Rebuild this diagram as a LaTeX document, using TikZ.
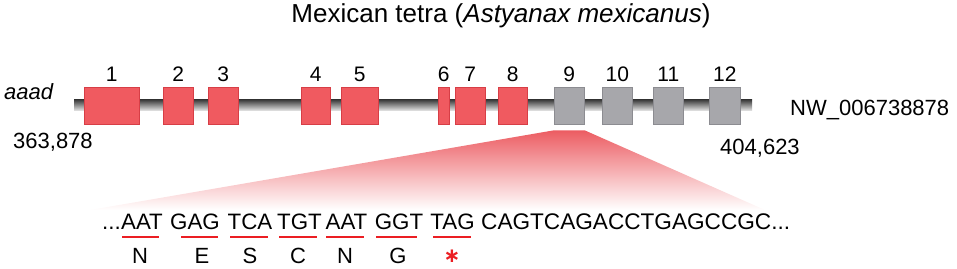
\documentclass[tikz,border=0pt]{standalone}
\usepackage{fontspec}
\setmainfont{Liberation Sans}
\newfontfamily\symfont{DejaVu Sans}
\definecolor{exred}{RGB}{240,90,96}
\definecolor{exredd}{RGB}{215,62,70}
\definecolor{exgray}{RGB}{167,167,171}
\definecolor{exgrayd}{RGB}{140,140,145}
\definecolor{seqred}{RGB}{235,30,35}
\definecolor{fanred}{RGB}{236,92,98}
\begin{document}
\begin{tikzpicture}[x=1pt,y=1pt,
  exon/.style={draw=exredd,line width=0.6pt,fill=exred,minimum height=37pt,inner sep=0pt,anchor=west},
  gexon/.style={draw=exgrayd,line width=0.6pt,fill=exgray,minimum height=37pt,inner sep=0pt,anchor=west},
  num/.style={font=\fontsize{21}{24}\selectfont,anchor=base,inner sep=0pt},
  lbl/.style={font=\fontsize{22}{26}\selectfont,inner sep=0pt},
  codon/.style={font=\fontsize{22.3}{26}\selectfont,inner sep=0pt,anchor=base},
  uline/.style={fill=seqred,minimum height=2pt,inner sep=0pt},
  aa/.style={font=\fontsize{22}{26}\selectfont,inner sep=0pt,anchor=base}]
\useasboundingbox (0,0) rectangle (957,268);
% title
\node[inner sep=0pt,anchor=base,font=\fontsize{26}{30}\selectfont] (title) at (501,245) {Mexican tetra (\textit{Astyanax mexicanus})};
% gene backbone
\shade[top color=black!75,middle color=black!75,bottom color=black!8] (74,157) rectangle (752,168);
% exons
\node[exon,minimum width=55pt] (e1) at (84,162.5) {};
\node[exon,minimum width=30pt] (e2) at (163,162.5) {};
\node[exon,minimum width=30pt] (e3) at (208,162.5) {};
\node[exon,minimum width=29pt] (e4) at (301,162.5) {};
\node[exon,minimum width=37pt] (e5) at (341,162.5) {};
\node[exon,minimum width=11pt] (e6) at (438,162.5) {};
\node[exon,minimum width=30pt] (e7) at (455,162.5) {};
\node[exon,minimum width=29pt] (e8) at (498,162.5) {};
\node[gexon,minimum width=30pt] (e9) at (554,162.5) {};
\node[gexon,minimum width=30pt] (e10) at (602,162.5) {};
\node[gexon,minimum width=30pt] (e11) at (653,162.5) {};
\node[gexon,minimum width=31pt] (e12) at (709,162.5) {};
\foreach \i in {1,...,12}{
  \node[num] (n\i) at ([yshift=5pt]e\i.north) {\i};
}
% labels
\node[lbl,anchor=base west,font=\fontsize{22}{26}\selectfont\itshape] (gname) at (4,168) {aaad};
\node[lbl,anchor=base west] (start) at (13,120) {363,878};
\node[lbl,anchor=base west] (stop) at (720,114) {404,623};
\node[lbl,anchor=base west] (acc) at (790,153) {NW\_006738878};
% zoom fan
\coordinate (f1) at ([yshift=-6pt]e9.south west);
\coordinate (f2) at ([yshift=-6pt]e9.south east);
\coordinate (f3) at (765,58);
\coordinate (f4) at (90,58);
\shade[top color=fanred,bottom color=white] (f1) -- (f2) -- (f3) -- (f4) -- cycle;
% sequence
\node[codon,anchor=base west] (dots) at (102,39) {...};
\node[codon] (c1) at (142,39) {AAT};
\node[codon] (c2) at (195,39) {GAG};
\node[codon] (c3) at (250,39) {TCA};
\node[codon] (c4) at (299.5,39) {TGT};
\node[codon] (c5) at (346.5,39) {AAT};
\node[codon] (c6) at (399,39) {GGT};
\node[codon] (c7) at (452.5,39) {TAG};
\node[codon,anchor=base west,font=\fontsize{22.6}{26}\selectfont] (rest) at (481,39) {CAGTCAGACCTGAGCCGC...};
% underlines
\node[uline,minimum width=37pt] (u1) at (140.5,31) {};
\node[uline,minimum width=37pt] (u2) at (199.5,31) {};
\node[uline,minimum width=38pt] (u3) at (249,31) {};
\node[uline,minimum width=38pt] (u4) at (298,31) {};
\node[uline,minimum width=38pt] (u5) at (345,31) {};
\node[uline,minimum width=41pt] (u6) at (396,31) {};
\node[uline,minimum width=38pt] (u7) at (452,31) {};
% amino acids
\node[aa] (a1) at (140,5) {N};
\node[aa] (a2) at (202,5) {E};
\node[aa] (a3) at (250,5) {S};
\node[aa] (a4) at (298,5) {C};
\node[aa] (a5) at (345,5) {N};
\node[aa] (a6) at (398,5) {G};
\node[inner sep=0pt,anchor=base,text=seqred,font=\fontsize{20}{24}\symfont\bfseries] (a7) at (452,5.5) {∗};
\end{tikzpicture}
\end{document}
